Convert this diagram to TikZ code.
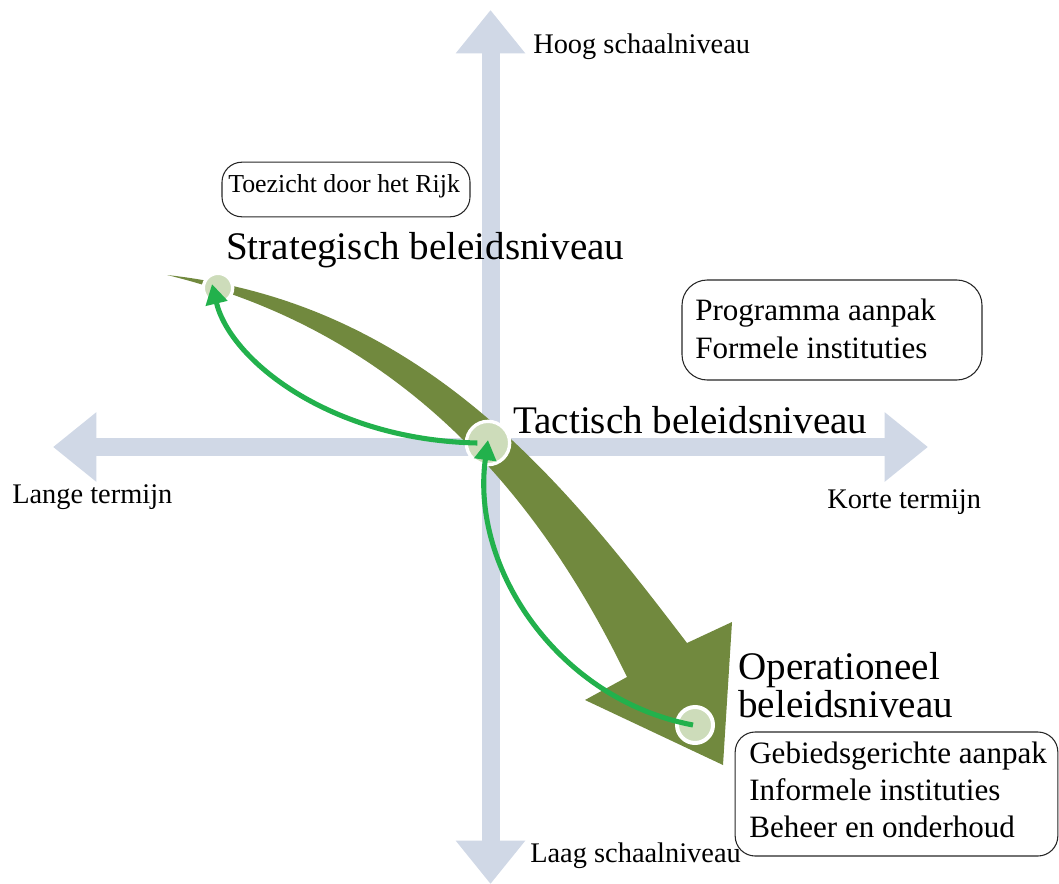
\documentclass[tikz,border=0pt]{standalone}
\usepackage{fontspec}
\setmainfont{Liberation Serif}
\usetikzlibrary{arrows.meta}
\definecolor{axisc}{RGB}{208,216,230}
\definecolor{olivec}{RGB}{113,137,62}
\definecolor{dotc}{RGB}{205,220,186}
\definecolor{greenc}{RGB}{34,177,76}
\begin{document}
\begin{tikzpicture}[x=0.75pt,y=-0.75pt,
  axisarrow/.style={draw=axisc,line width=13.5pt,-{Triangle[length=32.5pt,width=50pt]}},
  dot/.style={circle,fill=dotc,draw=white,inner sep=0pt},
  garrow/.style={draw=greenc,line width=3.8pt,-{Triangle[length=15pt,width=16pt]}},
  bigtxt/.style={font=\fontsize{29.3pt}{35pt}\selectfont,anchor=base west,inner sep=0pt},
  smalltxt/.style={font=\fontsize{21.3pt}{26pt}\selectfont,anchor=base west,inner sep=0pt},
  boxtxt/.style={font=\fontsize{23.3pt}{28pt}\selectfont,anchor=base west,inner sep=0pt},
  rbox/.style={draw=black!85,line width=0.8pt,rounded corners=15pt,inner sep=0pt}]
\useasboundingbox (0,0) rectangle (1059,884);
% axes
\coordinate (O) at (490.5,447);
\coordinate (top) at (490.5,10);
\coordinate (bot) at (490.5,884);
\coordinate (lft) at (53,447);
\coordinate (rgt) at (928,447);
\draw[axisarrow] (O) -- (top);
\draw[axisarrow] (O) -- (bot);
\draw[axisarrow] (O) -- (lft);
\draw[axisarrow] (O) -- (rgt);
% big curved olive arrow
\fill[olivec] (167,275) .. controls (423,303) and (565,483) .. (687,643)
  -- (732,622) -- (723,765) -- (585,700) -- (627,677)
  .. controls (541,499) and (405,333) .. (167,275) -- cycle;
% dots
\node[dot,line width=2.5pt,minimum size=22pt] (s) at (218,288) {};
\node[dot,line width=2.5pt,minimum size=32.5pt] (c) at (488,443) {};
\node[dot,line width=3pt,minimum size=27pt] (o) at (695,725) {};
% green arrows
\draw[garrow] ([xshift=-8pt]c.center) .. controls (330,440) and (230,360) .. ([shift={(-6,-4)}]s.center);
\draw[garrow] ([xshift=-1.5pt]o.center) .. controls (560,700) and (470,570) .. ([yshift=2.25pt]c.center);
% boxes
\node[rbox,minimum width=186pt,minimum height=41pt] (b1) at (346,189.5) {};
\node[rbox,rounded corners=19pt,minimum width=225pt,minimum height=75pt] (b2) at (832,330) {};
\node[rbox,minimum width=242pt,minimum height=93pt] (b3) at (896.5,794) {};
% texts
\node[smalltxt] (hoog) at (533,54) {Hoog schaalniveau};
\node[smalltxt] (laag) at (530,862) {Laag schaalniveau};
\node[smalltxt] (lange) at (12,503) {Lange termijn};
\node[smalltxt] (korte) at (827,508) {Korte termijn};
\node[font=\fontsize{19.4pt}{24pt}\selectfont,anchor=base west,inner sep=0pt] (toez) at (228,193) {Toezicht door het Rijk};
\node[bigtxt] (strat) at (226,259) {Strategisch beleidsniveau};
\node[bigtxt] (tact) at (513,433) {Tactisch beleidsniveau};
\node[bigtxt] (oper1) at (738,679) {Operationeel};
\node[bigtxt] (oper2) at (738,717) {beleidsniveau};
\node[boxtxt] (p1) at (695,320) {Programma aanpak};
\node[boxtxt] (p2) at (695,358) {Formele instituties};
\node[boxtxt] (g1) at (749,763) {Gebiedsgerichte aanpak};
\node[boxtxt] (g2) at (749,800) {Informele instituties};
\node[boxtxt] (g3) at (749,837) {Beheer en onderhoud};
\end{tikzpicture}
\end{document}
